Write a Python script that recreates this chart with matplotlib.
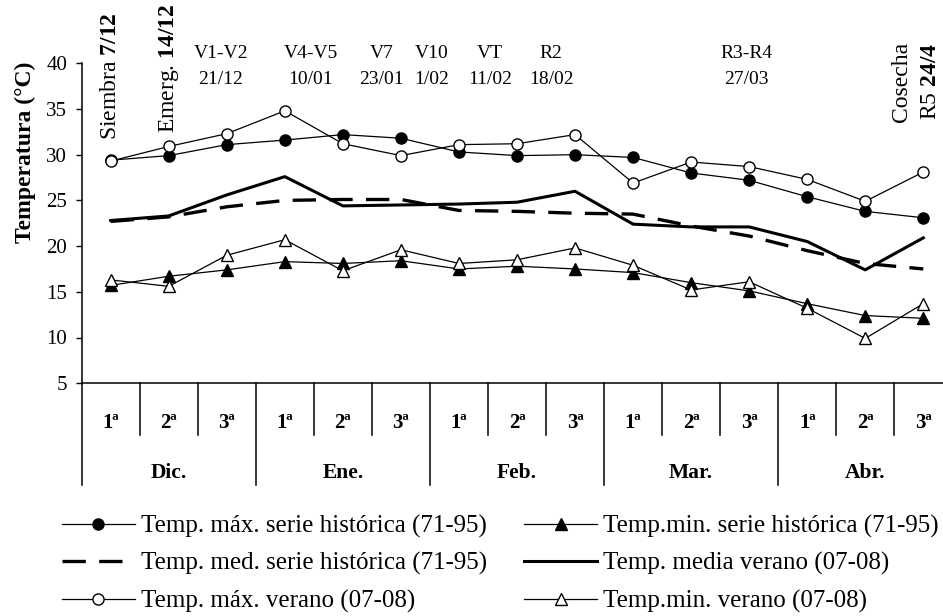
import numpy as np
import matplotlib.pyplot as plt
from matplotlib import transforms
from matplotlib.transforms import Bbox, TransformedBbox

plt.rcParams['font.family'] = 'Liberation Serif'
plt.rcParams['mathtext.fontset'] = 'custom'
plt.rcParams['mathtext.rm'] = 'Liberation Serif'
plt.rcParams['mathtext.bf'] = 'Liberation Serif:bold'

# Decadas (1a, 2a, 3a) de cada mes, diciembre a abril
meses = ['Dic.', 'Ene.', 'Feb.', 'Mar.', 'Abr.']
decadas = ['1ª', '2ª', '3ª']

# Temperaturas por decada (°C)
tmax_hist = [29.4, 29.9, 31.1, 31.6, 32.2, 31.8, 30.3, 29.9, 30.0, 29.7, 28.0, 27.2, 25.4, 23.8, 23.1]
tmin_hist = [15.7, 16.7, 17.4, 18.3, 18.1, 18.4, 17.5, 17.8, 17.5, 17.1, 16.0, 15.1, 13.7, 12.4, 12.1]
tmed_hist = [22.7, 23.2, 24.3, 25.0, 25.1, 25.1, 23.9, 23.8, 23.6, 23.5, 22.2, 21.1, 19.5, 18.1, 17.5]
tmed_ver = [22.8, 23.3, 25.6, 27.6, 24.4, 24.5, 24.6, 24.8, 26.0, 22.4, 22.1, 22.1, 20.5, 17.4, 20.9]
tmax_ver = [29.3, 30.9, 32.3, 34.8, 31.2, 29.9, 31.1, 31.2, 32.2, 26.9, 29.2, 28.7, 27.3, 24.9, 28.1]
tmin_ver = [16.3, 15.6, 19.0, 20.7, 17.3, 19.6, 18.1, 18.5, 19.8, 17.9, 15.2, 16.1, 13.2, 9.9, 13.7]

# Etapas fenologicas (nombre, fecha) y su posicion sobre el eje de decadas
etapas = ['V1-V2', 'V4-V5', 'V7', 'V10', 'VT', 'R2', 'R3-R4']
fechas = ['21/12', '10/01', '23/01', '1/02', '11/02', '18/02', '27/03']
etapas_x = [1.9, 3.45, 4.67, 5.53, 6.53, 7.59, 10.96]
verticales = ['Siembra $\\mathbf{7/12}$', 'Emerg. $\\mathbf{14/12}$', 'Cosecha', 'R5 $\\mathbf{24/4}$']
verticales_x = [0, 1, 13.63, 14.13]
verticales_y = [140, 133, 122, 120]

W, H = 943, 616
fig = plt.figure(figsize=(W / 100, H / 100), dpi=100)
ax = fig.add_axes([81.7 / W, 1 - 383.2 / H, 870.6 / W, 319.9 / H])

x = np.arange(len(tmax_hist))
ax.plot(x, tmax_hist, '-o', color='black', lw=0.9, ms=8, mfc='black', mec='black',
        label='Temp. máx. serie histórica (71-95)')
ax.plot(x, tmed_hist, color='black', lw=2.4, dashes=(7, 4),
        label='Temp. med. serie histórica (71-95)')
ax.plot(x, tmax_ver, '-o', color='black', lw=0.9, ms=8, mfc='white', mec='black', mew=1,
        label='Temp. máx. verano (07-08)')
ax.plot(x, tmin_hist, '-^', color='black', lw=0.9, ms=9, mfc='black', mec='black',
        label='Temp.min. serie histórica (71-95)')
ax.plot(x, tmed_ver, color='black', lw=2.2, label='Temp. media verano (07-08)')
ax.plot(x, tmin_ver, '-^', color='black', lw=0.9, ms=9, mfc='white', mec='black', mew=1,
        label='Temp.min. verano (07-08)')

ax.set_xlim(-0.5, 14.5)
ax.set_ylim(5, 40)
ax.set_yticks(np.arange(5, 41, 5))
ax.set_xticks([])
ax.tick_params(axis='y', direction='out', length=4.5, width=1, pad=6, labelsize=15)
for s in ['top', 'right']:
    ax.spines[s].set_visible(False)
ax.spines['left'].set_linewidth(1.1)
ax.spines['bottom'].set_linewidth(1.1)

# tabla de decadas y meses bajo el eje
tr = transforms.blended_transform_factory(ax.transData, fig.transFigure)
fy = lambda py: 1 - py / H
for i in range(15):
    largo = 485 if i % 3 == 0 else 435
    ax.plot([i - 0.5, i - 0.5], [fy(383.2), fy(largo)], color='black', lw=1.1,
            transform=tr, clip_on=False)
    ax.text(i, fy(423), decadas[i % 3], transform=tr, ha='center', va='center',
            fontsize=15, fontweight='bold')
for k, m in enumerate(meses):
    ax.text(3 * k + 1, fy(473), m, transform=tr, ha='center', va='center',
            fontsize=15.5, fontweight='bold')

# etapas del cultivo
for e, f, xe in zip(etapas, fechas, etapas_x):
    ax.text(xe, fy(53), e, transform=tr, ha='center', va='center', fontsize=14)
    ax.text(xe, fy(79), f, transform=tr, ha='center', va='center', fontsize=14)
for t, xv, yv in zip(verticales, verticales_x, verticales_y):
    ax.text(xv, fy(yv), t, transform=tr, ha='center', va='bottom', rotation=90,
            fontsize=17, clip_on=False)

# rotulo del eje y, recortado en el borde superior del grafico
yl = fig.text(25 / W, fy(243), 'Temperatura (°C)', rotation=90, ha='center', va='bottom',
              fontsize=17, fontweight='bold')
yl.set_clip_box(TransformedBbox(Bbox([[0, 0], [0.08, fy(63.3)]]), fig.transFigure))
yl.set_clip_on(True)

h, l = ax.get_legend_handles_labels()
fig.legend(h, l, loc='upper left', bbox_to_anchor=(62 / W, fy(515)), ncol=2,
           frameon=False, fontsize=18, handlelength=2.9, handletextpad=0.25,
           columnspacing=1.5, labelspacing=0.57, borderpad=0, borderaxespad=0)

fig.savefig('out.png', dpi=100)
